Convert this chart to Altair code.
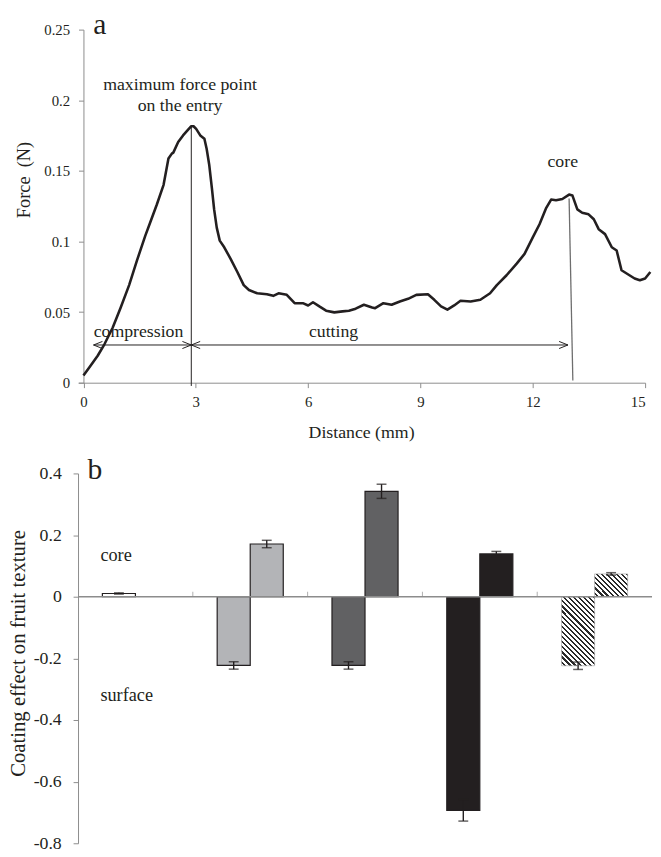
import altair as alt
import pandas as pd

FONT = "Liberation Serif"
INK = "#231f20"
AXIS_GREY = "#8c8c8c"

# ---------------- panel a : force / distance curve ----------------
dist = [0.0, 0.16, 0.38, 0.56, 0.78, 0.99, 1.22, 1.43, 1.65, 1.78, 1.96, 2.14, 2.27, 2.36, 2.40,
        2.53, 2.66, 2.79, 2.88, 2.94, 3.01, 3.12, 3.23, 3.29, 3.36, 3.43, 3.49, 3.56, 3.64, 3.76,
        3.93, 4.11, 4.28, 4.42, 4.64, 4.90, 5.07, 5.21, 5.43, 5.64, 5.86, 6.00, 6.13, 6.30, 6.48,
        6.70, 6.92, 7.09, 7.27, 7.49, 7.71, 7.79, 8.01, 8.23, 8.45, 8.67, 8.89, 9.20, 9.37, 9.55,
        9.72, 9.90, 10.07, 10.34, 10.60, 10.86, 11.04, 11.30, 11.57, 11.78, 12.00, 12.18, 12.36,
        12.49, 12.62, 12.79, 12.97, 13.06, 13.19, 13.32, 13.49, 13.63, 13.76, 13.93, 14.11, 14.24,
        14.37, 14.55, 14.72, 14.86, 15.0, 15.14]
force = [0.0051, 0.0110, 0.0191, 0.0272, 0.0389, 0.0529, 0.0691, 0.0866, 0.1040, 0.1133, 0.1262,
         0.1401, 0.1587, 0.1622, 0.1629, 0.1704, 0.1751, 0.1790, 0.1816, 0.1816, 0.1797, 0.1751,
         0.1727, 0.1657, 0.1541, 0.1378, 0.1227, 0.1098, 0.1006, 0.0959, 0.0877, 0.0784, 0.0691,
         0.0656, 0.0633, 0.0626, 0.0615, 0.0633, 0.0622, 0.0563, 0.0563, 0.0547, 0.0570, 0.0540,
         0.0510, 0.0498, 0.0505, 0.0510, 0.0524, 0.0552, 0.0533, 0.0528, 0.0563, 0.0552, 0.0575,
         0.0594, 0.0622, 0.0626, 0.0587, 0.0540, 0.0517, 0.0547, 0.0580, 0.0575, 0.0587, 0.0633,
         0.0691, 0.0761, 0.0843, 0.0912, 0.1029, 0.1122, 0.1238, 0.1297, 0.1292, 0.1301, 0.1332,
         0.1325, 0.1227, 0.1203, 0.1192, 0.1157, 0.1087, 0.1052, 0.0959, 0.0936, 0.0796, 0.0766,
         0.0738, 0.0726, 0.0738, 0.0784]

force_ticks = [0, 0.05, 0.1, 0.15, 0.2, 0.25]
dist_ticks = [0, 3, 6, 9, 12, 15]

# annotation guide lines (data coordinates)
peak_x, peak_top, peak_bottom = 2.88, 0.1816, -0.0023
core_line_x = [12.97, 13.07]
core_line_y = [0.1305, 0.0016]
arrow_y = 0.0267
arrow_from = [0.27, 2.88]
arrow_to = [2.88, 12.94]
head_x = [0.27, 2.88, 2.88, 12.94]
head_dir = ["left", "right", "left", "right"]

ann_text = ["maximum force point", "on the entry", "compression", "cutting", "core"]
ann_x = [2.58, 2.58, 1.47, 6.68, 12.80]
ann_y = [0.2072, 0.1927, 0.0326, 0.0326, 0.1529]
panel_a_label = {"t": "a", "x": 0.26, "y": 0.25}

# ---------------- panel b : coating effect bars ----------------
groups = ["G1", "G2", "G3", "G4", "G5"]
parts = ["surface", "core"]
surface_val = [0.0105, -0.223, -0.223, -0.693, -0.224]
surface_err = [0.002, 0.012, 0.012, 0.035, 0.012]
core_val = [None, 0.171, 0.342, 0.139, 0.074]
core_err = [None, 0.012, 0.023, 0.008, 0.004]
group_fill = ["#ffffff", "#b3b4b7", "#616163", INK]
coat_ticks = [-0.8, -0.6, -0.4, -0.2, 0, 0.2, 0.4]
side_text = ["core", "surface"]
side_y = [0.115, -0.339]
panel_b_label = {"t": "b", "group": "G1", "y": 0.4}

# ---------------- build panel a ----------------
curve = pd.DataFrame({"d": dist, "f": force})
xs = alt.Scale(domain=[-0.145, 15], nice=False, zero=False)
ys = alt.Scale(domain=[0, 0.25], nice=False, zero=False)

line = alt.Chart(curve).mark_line(color=INK, strokeWidth=2.6, strokeJoin="round").encode(
    x=alt.X("d:Q", scale=xs,
            axis=alt.Axis(values=dist_ticks, format="~g", tickSize=5, labelPadding=7,
                          labelFont=FONT, labelFontSize=15, title="Distance (mm)",
                          titleFont=FONT, titleFontSize=18, titleX=287, titleY=42)),
    y=alt.Y("f:Q", scale=ys,
            axis=alt.Axis(values=force_ticks, format="~g", tickSize=5, labelPadding=9,
                          labelFont=FONT, labelFontSize=15, title="Force\u00a0 (N)",
                          titleFont=FONT, titleFontSize=18.6, titleX=-50.2, titleY=152,
                          offset=-5.5)),
)

peak_df = pd.DataFrame({"x": [peak_x], "y": [peak_top], "y2": [peak_bottom]})
peak_rule = alt.Chart(peak_df).mark_rule(color=INK, strokeWidth=1).encode(
    x=alt.X("x:Q", scale=xs), y=alt.Y("y:Q", scale=ys), y2="y2:Q")

core_df = pd.DataFrame({"x": [core_line_x[0]], "x2": [core_line_x[1]],
                        "y": [core_line_y[0]], "y2": [core_line_y[1]]})
core_rule = alt.Chart(core_df).mark_rule(color="#6e6e6e", strokeWidth=1.3).encode(
    x=alt.X("x:Q", scale=xs), x2="x2:Q", y=alt.Y("y:Q", scale=ys), y2="y2:Q")

arrow_df = pd.DataFrame({"x": arrow_from, "x2": arrow_to, "y": [arrow_y] * len(arrow_from)})
arrows = alt.Chart(arrow_df).mark_rule(color=INK, strokeWidth=1).encode(
    x=alt.X("x:Q", scale=xs), x2="x2:Q", y=alt.Y("y:Q", scale=ys))

LEFT_HEAD = "M 2 -0.8 L 0 0 L 2 0.8"
RIGHT_HEAD = "M -2 -0.8 L 0 0 L -2 0.8"
head_df = pd.DataFrame({"x": head_x, "y": [arrow_y] * len(head_x), "dir": head_dir})
heads = alt.Chart(head_df).mark_point(filled=False, color=INK, strokeWidth=1, size=81,
                                      opacity=1).encode(
    x=alt.X("x:Q", scale=xs), y=alt.Y("y:Q", scale=ys),
    shape=alt.Shape("dir:N", scale=alt.Scale(domain=["left", "right"],
                                             range=[LEFT_HEAD, RIGHT_HEAD]), legend=None))

ann_df = pd.DataFrame({"x": ann_x, "y": ann_y, "t": ann_text})
ann = alt.Chart(ann_df).mark_text(font=FONT, fontSize=18, color=INK, align="center",
                                  baseline="alphabetic").encode(
    x=alt.X("x:Q", scale=xs), y=alt.Y("y:Q", scale=ys), text="t:N")

a_df = pd.DataFrame([panel_a_label])
a_label = alt.Chart(a_df).mark_text(font=FONT, fontSize=30, color=INK, align="left",
                                    baseline="alphabetic", dy=4.5).encode(
    x=alt.X("x:Q", scale=xs), y=alt.Y("y:Q", scale=ys), text="t:N")

panel_a = alt.layer(line, peak_rule, core_rule, arrows, heads, ann, a_label).properties(
    width=575, height=358)

# ---------------- build panel b ----------------
rows = []
for g, sv, se, cv, ce in zip(groups, surface_val, surface_err, core_val, core_err):
    rows.append({"group": g, "part": "surface", "value": sv, "lo": sv - se, "hi": sv + se})
    if cv is not None:
        rows.append({"group": g, "part": "core", "value": cv, "lo": cv - ce, "hi": cv + ce})
bars_df = pd.DataFrame(rows)

PANEL_B_W = 582
HALF_STEP = PANEL_B_W / len(groups) / 2

bx = alt.X("group:N", scale=alt.Scale(domain=groups, paddingInner=0.4244, paddingOuter=0.2122),
           axis=None)
bxo = alt.XOffset("part:N", scale=alt.Scale(domain=parts, paddingInner=0, paddingOuter=0))
bys = alt.Scale(domain=[-0.8, 0.4], nice=False, zero=False)

y_axis_b = alt.Axis(values=coat_ticks, format="~g", tickSize=5, labelPadding=12,
                    labelFont=FONT, labelFontSize=18, title="Coating effect on fruit texture",
                    titleFont=FONT, titleFontSize=21, titleX=-50, titleY=182)

base_b = alt.Chart(bars_df)

solid = base_b.transform_filter(alt.datum.group != "G5").mark_bar(
    stroke=INK, strokeWidth=1.2).encode(
    x=bx, xOffset=bxo,
    y=alt.Y("value:Q", scale=bys, axis=y_axis_b),
    color=alt.Color("group:N", scale=alt.Scale(domain=groups[:4], range=group_fill),
                    legend=None),
)


def stripes(n, dark_frac=0.42):
    stops = []
    for k in range(n):
        a = k / n
        b = (k + 1 - dark_frac) / n
        c = (k + 1) / n
        stops += [alt.GradientStop(offset=a, color="#ffffff"),
                  alt.GradientStop(offset=b, color="#ffffff"),
                  alt.GradientStop(offset=b, color="#2a2a2a"),
                  alt.GradientStop(offset=c, color="#2a2a2a")]
    return stops


hatch_surface_fill = alt.LinearGradient(gradient="linear", stops=stripes(20),
                                        x1=0, y1=1, x2=0.577, y2=-0.203)
hatch_core_fill = alt.LinearGradient(gradient="linear", stops=stripes(11),
                                     x1=0, y1=1, x2=1.146, y2=0.212)

hatch_s = base_b.transform_filter(
    (alt.datum.group == "G5") & (alt.datum.part == "surface")).mark_bar(
    fill=hatch_surface_fill, stroke="#9a9a9a", strokeWidth=0.6).encode(
    x=bx, xOffset=bxo, y=alt.Y("value:Q", scale=bys))
hatch_c = base_b.transform_filter(
    (alt.datum.group == "G5") & (alt.datum.part == "core")).mark_bar(
    fill=hatch_core_fill, stroke="#9a9a9a", strokeWidth=0.6).encode(
    x=bx, xOffset=bxo, y=alt.Y("value:Q", scale=bys))

zero_df = pd.DataFrame({"z": [0]})
zero_line = alt.Chart(zero_df).mark_rule(color=AXIS_GREY, strokeWidth=1.6).encode(
    y=alt.Y("z:Q", scale=bys))

err_rule = base_b.mark_rule(color=INK, strokeWidth=1.4).encode(
    x=bx, xOffset=bxo, y=alt.Y("lo:Q", scale=bys), y2="hi:Q")
cap_lo = base_b.mark_tick(color=INK, size=10, thickness=1.5).encode(
    x=bx, xOffset=bxo, y=alt.Y("lo:Q", scale=bys))
cap_hi = base_b.mark_tick(color=INK, size=10, thickness=1.5).encode(
    x=bx, xOffset=bxo, y=alt.Y("hi:Q", scale=bys))

side_df = pd.DataFrame({"group": [groups[0]] * len(side_text), "y": side_y, "t": side_text})
side = alt.Chart(side_df).mark_text(font=FONT, fontSize=18.5, color=INK, align="left",
                                    baseline="alphabetic", dx=-35.5).encode(
    x=bx, y=alt.Y("y:Q", scale=bys), text="t:N")

# category separators sit half a band step before each group (except the first)
sep_df = pd.DataFrame({"group": groups[1:], "z": [0] * (len(groups) - 1)})
group_ticks = alt.Chart(sep_df).mark_tick(orient="vertical", size=5, thickness=1,
                                          color=AXIS_GREY, xOffset=-HALF_STEP,
                                          yOffset=-2.5).encode(
    x=bx, y=alt.Y("z:Q", scale=bys))

b_df = pd.DataFrame([panel_b_label])
b_label = alt.Chart(b_df).mark_text(font=FONT, fontSize=30, color=INK, align="left",
                                    baseline="alphabetic", dx=-48.5, dy=5.7).encode(
    x=bx, y=alt.Y("y:Q", scale=bys), text="t:N")

panel_b = alt.layer(solid, hatch_s, hatch_c, zero_line, err_rule, cap_lo, cap_hi, side,
                    group_ticks, b_label).properties(width=PANEL_B_W, height=375)

chart = alt.vconcat(panel_a, panel_b, spacing=92, bounds="flush").properties(
    padding={"left": 0, "top": -4, "right": 0, "bottom": 0}, background="white"
).configure(
    locale=alt.Locale(number=alt.NumberLocale(decimal=".", thousands=",", grouping=[3],
                                              currency=["", ""], minus="-"))
).configure_view(stroke=None).configure_axis(
    grid=False, domainColor=AXIS_GREY, tickColor=AXIS_GREY, labelColor=INK, titleColor=INK,
    labelFont=FONT, titleFont=FONT, titleFontWeight="normal", domainWidth=1
)

chart.save("out.html", embed_options={"renderer": "svg", "actions": False})
